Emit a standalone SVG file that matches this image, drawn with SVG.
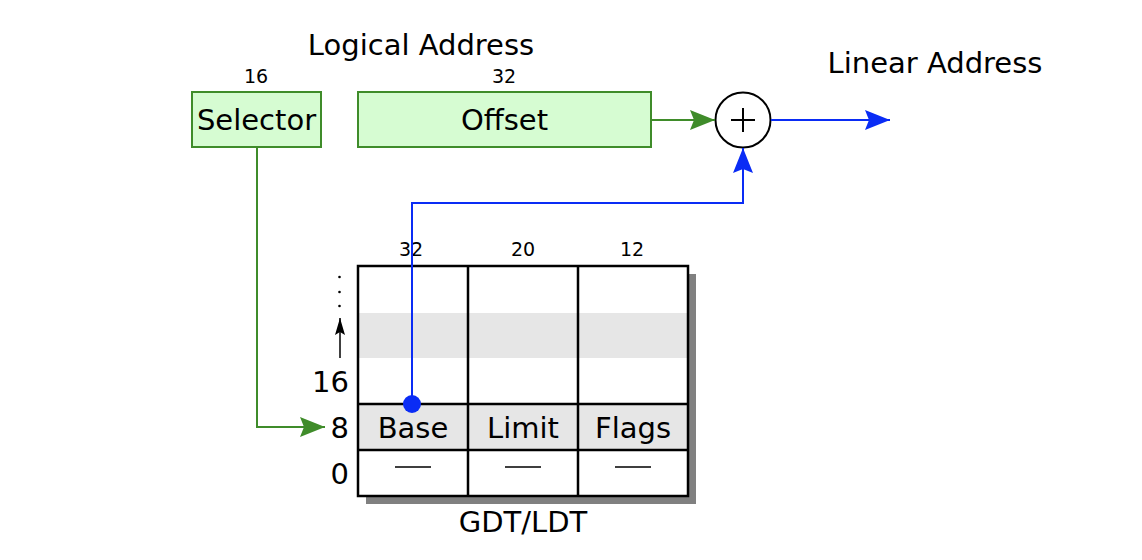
<svg xmlns="http://www.w3.org/2000/svg" width="1142" height="560" viewBox="0 0 1142 560">
<defs>
<style>
text{font-family:"DejaVu Sans","Liberation Sans",sans-serif;fill:#000}
.big{font-size:29px}
.sm{font-size:19px}
.mid{text-anchor:middle}
.end{text-anchor:end}
.gbox{fill:#d6fcd2;stroke:#3f8c2a;stroke-width:2}
.g{fill:none;stroke:#3f8c2a;stroke-width:2}
.b{fill:none;stroke:#0a2cf5;stroke-width:2}
.k{fill:none;stroke:#000;stroke-width:2.5}
</style>
<marker id="ag" viewBox="0 0 25 20" refX="25" refY="10" markerWidth="25" markerHeight="20" markerUnits="userSpaceOnUse" orient="auto">
<path d="M0,0 L25,10 L0,20 L4,10 z" fill="#3f8c2a"/>
</marker>
<marker id="ab" viewBox="0 0 25 20" refX="25" refY="10" markerWidth="25" markerHeight="20" markerUnits="userSpaceOnUse" orient="auto">
<path d="M0,0 L25,10 L0,20 L4,10 z" fill="#0a2cf5"/>
</marker>
<marker id="ak" viewBox="0 0 17 10" refX="17" refY="5" markerWidth="17" markerHeight="10" markerUnits="userSpaceOnUse" orient="auto">
<path d="M0,0 L17,5 L0,10 L3,5 z" fill="#000"/>
</marker>
</defs>
<rect width="1142" height="560" fill="#fff"/>

<text class="big mid" x="421" y="55">Logical Address</text>
<text class="big mid" x="935" y="73">Linear Address</text>

<g id="selector">
<text class="sm mid" x="256" y="83">16</text>
<rect class="gbox" x="192" y="92" width="129" height="55"/>
<text class="big mid" x="256.5" y="130">Selector</text>
</g>

<g id="offset">
<text class="sm mid" x="504" y="83">32</text>
<rect class="gbox" x="358" y="92" width="293" height="55"/>
<text class="big mid" x="504.5" y="130">Offset</text>
</g>

<g id="adder">
<circle cx="743" cy="120" r="27.5" fill="#fff" stroke="#000" stroke-width="2"/>
<path d="M731,120 H755 M743,108 V132" fill="none" stroke="#000" stroke-width="2"/>
</g>

<g id="table">
<rect x="366" y="274" width="330" height="230" fill="#808080"/>
<rect x="358" y="266" width="330" height="230" fill="#fff"/>
<rect x="358" y="313" width="330" height="45" fill="#e6e6e6"/>
<rect x="358" y="404" width="330" height="46" fill="#e6e6e6"/>
<path class="k" d="M468,266 V496 M578,266 V496 M358,404 H688 M358,450 H688"/>
<rect x="358" y="266" width="330" height="230" class="k"/>
<text class="sm mid" x="411" y="256">32</text>
<text class="sm mid" x="523" y="256">20</text>
<text class="sm mid" x="632" y="256">12</text>
<text class="big mid" x="413" y="438">Base</text>
<text class="big mid" x="523" y="438">Limit</text>
<text class="big mid" x="633" y="438">Flags</text>
<path d="M395,467 H431 M505,467 H541 M615,467 H651" stroke="#000" stroke-width="1.5"/>
<text class="big end" x="349" y="392">16</text>
<text class="big end" x="349" y="438">8</text>
<text class="big end" x="349" y="484">0</text>
<circle cx="339.5" cy="277" r="1.3" fill="#000"/>
<circle cx="339.5" cy="292" r="1.3" fill="#000"/>
<circle cx="339.5" cy="306" r="1.3" fill="#000"/>
<path d="M340,358 V318" stroke="#000" stroke-width="1.5" marker-end="url(#ak)"/>
<text class="big mid" x="523" y="532">GDT/LDT</text>
</g>

<g id="connectors">
<path class="g" d="M257,147 V427 H325" marker-end="url(#ag)"/>
<path class="g" d="M651,120 H715" marker-end="url(#ag)"/>
<path class="b" d="M771,120 H890" marker-end="url(#ab)"/>
<path class="b" d="M412,404 V203 H743 V148" marker-end="url(#ab)"/>
<circle cx="412" cy="404" r="9" fill="#0a2cf5"/>
</g>
</svg>
